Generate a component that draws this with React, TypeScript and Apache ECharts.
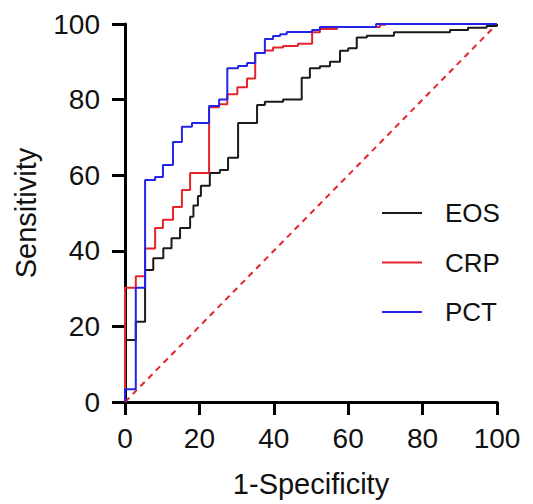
import React, { useEffect, useRef } from "react";
import * as echarts from "echarts";

// ROC curves: [1-Specificity (%), Sensitivity (%)] — curve rises at x to y
const eosPoints: number[][] = [
  [0, 0], [0, 16.4], [2.9, 21.2], [5.4, 34.9], [7.6, 38.0], [10.3, 40.7], [12.5, 43.3],
  [14.8, 46.0], [17.5, 49.0], [18.4, 52.0], [19.6, 54.5], [20.4, 57.2], [22.8, 60.6],
  [25.5, 61.4], [27.7, 64.6], [30.4, 73.8], [35.5, 78.6], [37.6, 79.4], [42.5, 80.0],
  [47.5, 85.8], [49.7, 88.3], [52.4, 88.8], [55.1, 90.0], [57.8, 92.9], [60.0, 93.6],
  [62.3, 96.4], [65.0, 96.9], [72.3, 97.8], [87.4, 98.4], [92.2, 99.0], [97.2, 99.5],
  [100, 100],
];

const crpPoints: number[][] = [
  [0, 0], [0, 30.2], [2.9, 33.3], [5.4, 40.6], [8.1, 46.0], [10.2, 48.2], [12.9, 51.6],
  [15.3, 56.1], [17.5, 60.6], [22.6, 78.0], [25.3, 78.8], [27.5, 81.4], [30.2, 83.3],
  [32.8, 85.6], [35.0, 92.3], [37.6, 93.0], [39.8, 93.8], [42.5, 94.2], [46.5, 94.8],
  [50.3, 97.8], [52.4, 98.7], [57.0, 99.2], [68.5, 99.8], [70.0, 100], [100, 100],
];

const pctPoints: number[][] = [
  [0, 0], [0, 3.4], [2.9, 30.2], [5.4, 58.7], [8.1, 59.5], [10.2, 62.7], [12.9, 68.8],
  [15.3, 72.8], [18.0, 73.8], [22.6, 78.3], [25.3, 80.0], [27.5, 88.3], [30.4, 88.9],
  [32.8, 89.7], [35.0, 92.3], [37.6, 96.0], [39.8, 96.8], [41.7, 97.3], [43.5, 97.9],
  [50.3, 98.4], [52.4, 99.2], [67.5, 100], [100, 100],
];

const referencePoints: number[][] = [[0, 0], [100, 100]];

const seriesNames = ["EOS", "CRP", "PCT"];
const seriesColors = ["#1a1a1a", "#e3242b", "#2424e6"];

const AXIS_MIN = 0;
const AXIS_MAX = 100;
const AXIS_STEP = 20;
const xTitle = "1-Specificity";
const yTitle = "Sensitivity";

export default function App() {
  const ref = useRef<HTMLDivElement>(null);

  useEffect(() => {
    if (!ref.current) return;
    const chart = echarts.init(ref.current, null, { renderer: "svg" });
    const font = "'Liberation Sans', Arial, sans-serif";
    const axisCommon = {
      type: "value" as const,
      min: AXIS_MIN,
      max: AXIS_MAX,
      interval: AXIS_STEP,
      nameLocation: "middle" as const,
      nameTextStyle: { fontSize: 29, color: "#111", fontFamily: font },
      axisLine: { show: true, onZero: false, lineStyle: { color: "#000", width: 3 } },
      axisTick: { show: true, inside: false, length: 13, lineStyle: { color: "#000", width: 3 } },
      axisLabel: { fontSize: 28, color: "#111", fontFamily: font },
      splitLine: { show: false },
    };
    const curves = [eosPoints, crpPoints, pctPoints].map((pts, i) => ({
      name: seriesNames[i],
      type: "line" as const,
      step: "end" as const,
      data: pts,
      symbol: "none",
      showSymbol: false,
      clip: false,
      z: 3 + i,
      lineStyle: { color: seriesColors[i], width: 2 },
      itemStyle: { color: seriesColors[i] },
    }));
    chart.setOption({
      animation: false,
      backgroundColor: "#fff",
      grid: { left: 125, right: 36, top: 24, bottom: 102, containLabel: false },
      xAxis: {
        ...axisCommon,
        name: xTitle,
        nameGap: 67,
        axisLabel: { ...axisCommon.axisLabel, margin: 22 },
      },
      yAxis: {
        ...axisCommon,
        name: yTitle,
        nameGap: 85,
        axisLabel: { ...axisCommon.axisLabel, margin: 25 },
      },
      legend: {
        data: seriesNames.map((n) => ({ name: n, icon: "rect" })),
        orient: "vertical",
        left: 382,
        top: 200,
        padding: 0,
        itemWidth: 40,
        itemHeight: 2,
        itemGap: 23.5,
        textStyle: { fontSize: 26, lineHeight: 26, color: "#111", fontFamily: font, padding: [0, 0, 0, 18] },
      },
      series: [
        {
          name: "reference",
          type: "line",
          data: referencePoints,
          symbol: "none",
          z: 2,
          lineStyle: { color: "#e3242b", width: 2, type: [6, 5] },
          tooltip: { show: false },
        },
        ...curves,
      ],
    });
    return () => chart.dispose();
  }, []);

  return <div ref={ref} style={{ width: 533, height: 504, position: "absolute", left: 0, top: 0 }} />;
}
